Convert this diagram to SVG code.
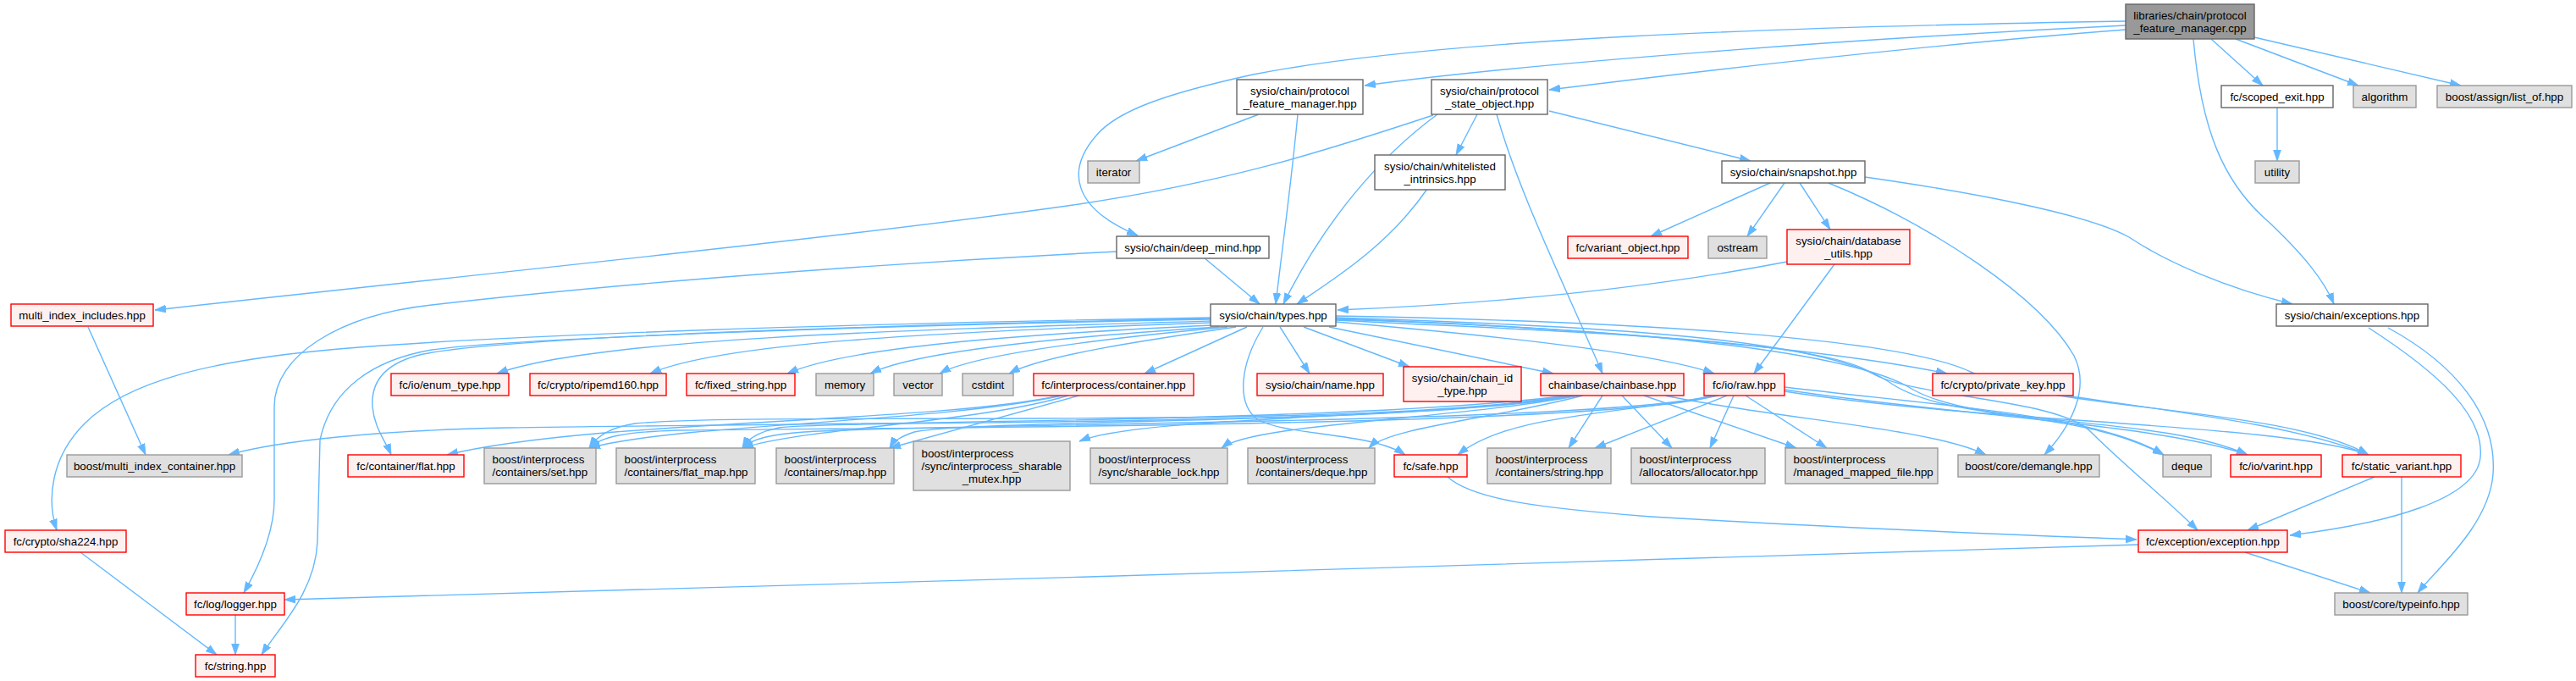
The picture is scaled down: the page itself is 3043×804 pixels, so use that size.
<svg xmlns="http://www.w3.org/2000/svg" width="3043" height="804" viewBox="0 0 3043 804">
<style>
text{font-family:"Liberation Sans",Arial,Helvetica,sans-serif;font-size:13.33px;fill:#000}
.c{text-anchor:middle}
.w rect{fill:#fff;stroke:#666;stroke-width:1.4}
.r0 rect{fill:#999;stroke:#666;stroke-width:1.4}
.g rect{fill:#e0e0e0;stroke:#999;stroke-width:1.4}
.x rect{fill:#fff0f0;stroke:#f00;stroke-width:1.4}
#edges path{fill:none;stroke:#63b8ff;stroke-width:1.4;marker-end:url(#ah)}
</style>
<defs>
<marker id="ah" markerUnits="userSpaceOnUse" markerWidth="14" markerHeight="10" refX="13" refY="5" orient="auto">
<path d="M0,0.6 L13,5 L0,9.4 Z" fill="#63b8ff" stroke="#63b8ff" stroke-width="0.8"/>
</marker>
</defs>
<rect width="3043" height="804" fill="#fff"/>
<g id="edges">
<path d="M2511,30 C2200,45 1800,75 1612,101"/>
<path d="M2511,35 C2250,55 2000,85 1830,106"/>
<path d="M2511,25 C2100,32 1700,45 1480,88 C1380,110 1320,130 1295,160 C1260,200 1265,245 1344,278"/>
<path d="M2591,46 C2600,150 2625,215 2680,262 C2720,300 2745,330 2757,359"/>
<path d="M2612,46 L2673,101"/>
<path d="M2641,46 L2786,101"/>
<path d="M2663,44 L2907,101"/>
<path d="M2690,127 L2690,190"/>
<path d="M1487,135 L1342,190"/>
<path d="M1533,135 C1525,220 1515,290 1507,359"/>
<path d="M1698,135 C1630,185 1565,260 1516,359"/>
<path d="M1693,136 C1560,180 1450,215 1268,242 C1000,280 600,320 183,366"/>
<path d="M1745,135 L1720,183"/>
<path d="M1830,131 L2068,190"/>
<path d="M1768,135 C1795,230 1850,340 1893,441"/>
<path d="M1686,223 C1640,290 1575,330 1532,359"/>
<path d="M2091,216 L1950,279"/>
<path d="M2108,216 L2064,279"/>
<path d="M2126,216 L2162,271"/>
<path d="M2160,216 C2280,265 2410,350 2450,420 C2470,460 2445,505 2415,537"/>
<path d="M2203,209 C2350,230 2470,255 2515,280 C2560,310 2630,340 2708,359"/>
<path d="M2111,309 C1950,340 1780,358 1580,366"/>
<path d="M2167,312 L2072,441"/>
<path d="M1422,304 L1488,359"/>
<path d="M1319,297 C1000,313 700,338 510,360 C400,372 324,420 324,480 L324,590 C324,630 305,670 288,700"/>
<path d="M278,725 L278,773"/>
<path d="M95,652 L256,773"/>
<path d="M104,386 L172,537"/>
<path d="M1430,379 C1050,390 700,400 587,441"/>
<path d="M1430,381 C1100,392 850,405 768,441"/>
<path d="M1432,384 C1200,395 1000,410 930,441"/>
<path d="M1440,386 C1250,398 1080,415 1028,441"/>
<path d="M1450,386 C1300,400 1150,418 1110,441"/>
<path d="M1460,386 C1350,402 1230,420 1192,441"/>
<path d="M1473,386 L1352,441"/>
<path d="M1512,386 L1547,441"/>
<path d="M1540,386 L1665,433"/>
<path d="M1570,386 L1835,441"/>
<path d="M1578,380 C1750,395 1950,415 2025,441"/>
<path d="M1578,377 C1850,385 2150,410 2300,441"/>
<path d="M1430,375 C1000,382 600,395 400,412 C250,425 150,450 100,500 C60,540 55,590 67,626"/>
<path d="M1430,377 C1000,385 600,400 510,413 C440,425 390,460 378,520 L375,640 C372,700 330,740 309,773"/>
<path d="M1430,376 C1000,385 600,398 500,418 C455,428 438,450 440,480 C442,505 455,520 462,537"/>
<path d="M1492,386 C1465,430 1460,475 1485,495 C1520,515 1620,510 1660,537"/>
<path d="M1578,375 C1900,385 2150,400 2230,450 C2300,500 2450,480 2556,537"/>
<path d="M1578,376 C1900,388 2180,410 2260,460 C2340,505 2550,490 2655,537"/>
<path d="M1578,373 C1950,380 2250,400 2330,440 C2420,485 2700,480 2798,537"/>
<path d="M1578,378 C1850,392 2150,400 2210,440 C2260,470 2430,470 2470,510 C2510,550 2560,590 2596,626"/>
<path d="M1252,467 C1100,500 700,495 528,537"/>
<path d="M1255,467 C1100,500 800,500 696,529"/>
<path d="M1262,467 C1150,500 950,505 877,529"/>
<path d="M1275,467 L1051,529"/>
<path d="M1850,467 C1600,500 900,500 600,505 C450,508 330,520 270,537"/>
<path d="M1852,467 C1600,510 900,485 750,500 C720,505 705,515 696,529"/>
<path d="M1855,467 C1650,505 1000,495 920,505 C895,510 883,518 877,529"/>
<path d="M1858,467 C1700,500 1150,495 1080,510 C1065,515 1056,520 1051,529"/>
<path d="M1862,467 C1700,495 1350,490 1275,521"/>
<path d="M1865,467 C1720,495 1480,500 1443,529"/>
<path d="M1870,467 C1760,495 1640,505 1617,529"/>
<path d="M1893,467 L1853,529"/>
<path d="M1916,467 L1975,529"/>
<path d="M1942,467 L2122,529"/>
<path d="M1967,467 C2100,495 2280,505 2346,537"/>
<path d="M2030,467 C1900,490 1780,490 1722,537"/>
<path d="M2040,467 L1884,529"/>
<path d="M2048,467 L2020,529"/>
<path d="M2062,467 L2158,529"/>
<path d="M2027,467 C1900,505 1000,505 800,508 C740,510 710,515 696,529"/>
<path d="M2022,467 C1900,500 1100,500 950,510 C910,513 888,518 877,529"/>
<path d="M2108,457 C2300,480 2480,490 2556,537"/>
<path d="M2108,460 C2300,490 2550,500 2655,537"/>
<path d="M2108,462 C2350,500 2700,500 2798,537"/>
<path d="M2440,467 C2600,490 2720,505 2798,537"/>
<path d="M2805,563 L2655,626"/>
<path d="M2837,563 L2837,700"/>
<path d="M2652,652 L2800,700"/>
<path d="M2526,643 C2000,660 1000,690 336,708"/>
<path d="M1710,563 C1740,590 1820,600 1950,610 C2200,625 2400,632 2524,637"/>
<path d="M2798,387 C2880,440 2935,490 2930,540 C2925,590 2820,618 2705,632"/>
<path d="M2821,387 C2900,430 2950,490 2945,560 C2940,620 2880,670 2856,700"/>
</g>
<g id="n_cpp" class="r0"><rect x="2511" y="5" width="152" height="41"/><text class="c" x="2587" y="22.7">libraries/chain/protocol</text><text class="c" x="2587" y="37.7">_feature_manager.cpp</text></g>
<g id="n_pfm" class="w"><rect x="1461" y="94" width="149" height="41"/><text class="c" x="1535.5" y="111.7">sysio/chain/protocol</text><text class="c" x="1535.5" y="126.7">_feature_manager.hpp</text></g>
<g id="n_pso" class="w"><rect x="1691" y="94" width="137" height="41"/><text class="c" x="1759.5" y="111.7">sysio/chain/protocol</text><text class="c" x="1759.5" y="126.7">_state_object.hpp</text></g>
<g id="n_scoped" class="w"><rect x="2624" y="101" width="132" height="26"/><text class="c" x="2690" y="118.5">fc/scoped_exit.hpp</text></g>
<g id="n_algorithm" class="g"><rect x="2780" y="101" width="74" height="26"/><text class="c" x="2817" y="118.5">algorithm</text></g>
<g id="n_listof" class="g"><rect x="2879" y="101" width="159" height="26"/><text class="c" x="2958.5" y="118.5">boost/assign/list_of.hpp</text></g>
<g id="n_iterator" class="g"><rect x="1285" y="190" width="61" height="26"/><text class="c" x="1315.5" y="207.5">iterator</text></g>
<g id="n_whitelisted" class="w"><rect x="1624" y="183" width="154" height="41"/><text class="c" x="1701" y="200.7">sysio/chain/whitelisted</text><text class="c" x="1701" y="215.7">_intrinsics.hpp</text></g>
<g id="n_snapshot" class="w"><rect x="2034" y="190" width="169" height="26"/><text class="c" x="2118.5" y="207.5">sysio/chain/snapshot.hpp</text></g>
<g id="n_utility" class="g"><rect x="2664" y="190" width="52" height="26"/><text class="c" x="2690" y="207.5">utility</text></g>
<g id="n_deepmind" class="w"><rect x="1319" y="279" width="180" height="26"/><text class="c" x="1409" y="296.5">sysio/chain/deep_mind.hpp</text></g>
<g id="n_variantobj" class="x"><rect x="1852" y="279" width="142" height="26"/><text class="c" x="1923" y="296.5">fc/variant_object.hpp</text></g>
<g id="n_ostream" class="g"><rect x="2018" y="279" width="69" height="26"/><text class="c" x="2052.5" y="296.5">ostream</text></g>
<g id="n_dbutils" class="x"><rect x="2111" y="271" width="145" height="41"/><text class="c" x="2183.5" y="288.7">sysio/chain/database</text><text class="c" x="2183.5" y="303.7">_utils.hpp</text></g>
<g id="n_mii" class="x"><rect x="13" y="359" width="168" height="26"/><text class="c" x="97" y="376.5">multi_index_includes.hpp</text></g>
<g id="n_types" class="w"><rect x="1430" y="359" width="148" height="26"/><text class="c" x="1504" y="376.5">sysio/chain/types.hpp</text></g>
<g id="n_exceptions" class="w"><rect x="2689" y="359" width="179" height="26"/><text class="c" x="2778.5" y="376.5">sysio/chain/exceptions.hpp</text></g>
<g id="n_enum" class="x"><rect x="462" y="441" width="139" height="26"/><text class="c" x="531.5" y="458.5">fc/io/enum_type.hpp</text></g>
<g id="n_ripemd" class="x"><rect x="626" y="441" width="161" height="26"/><text class="c" x="706.5" y="458.5">fc/crypto/ripemd160.hpp</text></g>
<g id="n_fixed" class="x"><rect x="811" y="441" width="128" height="26"/><text class="c" x="875" y="458.5">fc/fixed_string.hpp</text></g>
<g id="n_memory" class="g"><rect x="964" y="441" width="68" height="26"/><text class="c" x="998" y="458.5">memory</text></g>
<g id="n_vector" class="g"><rect x="1056" y="441" width="57" height="26"/><text class="c" x="1084.5" y="458.5">vector</text></g>
<g id="n_cstdint" class="g"><rect x="1137" y="441" width="60" height="26"/><text class="c" x="1167" y="458.5">cstdint</text></g>
<g id="n_container" class="x"><rect x="1221" y="441" width="189" height="26"/><text class="c" x="1315.5" y="458.5">fc/interprocess/container.hpp</text></g>
<g id="n_name" class="x"><rect x="1485" y="441" width="149" height="26"/><text class="c" x="1559.5" y="458.5">sysio/chain/name.hpp</text></g>
<g id="n_chainid" class="x"><rect x="1658" y="433" width="139" height="41"/><text class="c" x="1727.5" y="450.7">sysio/chain/chain_id</text><text class="c" x="1727.5" y="465.7">_type.hpp</text></g>
<g id="n_chainbase" class="x"><rect x="1820" y="441" width="169" height="26"/><text class="c" x="1904.5" y="458.5">chainbase/chainbase.hpp</text></g>
<g id="n_raw" class="x"><rect x="2013" y="441" width="95" height="26"/><text class="c" x="2060.5" y="458.5">fc/io/raw.hpp</text></g>
<g id="n_privkey" class="x"><rect x="2283" y="441" width="166" height="26"/><text class="c" x="2366" y="458.5">fc/crypto/private_key.hpp</text></g>
<g id="n_mic" class="g"><rect x="79" y="537" width="207" height="26"/><text class="c" x="182.5" y="554.5">boost/multi_index_container.hpp</text></g>
<g id="n_flat" class="x"><rect x="411" y="537" width="137" height="26"/><text class="c" x="479.5" y="554.5">fc/container/flat.hpp</text></g>
<g id="n_set" class="g"><rect x="572" y="529" width="132" height="42"/><text x="581.5" y="546.7">boost/interprocess</text><text x="581.5" y="561.7">/containers/set.hpp</text></g>
<g id="n_flatmap" class="g"><rect x="728" y="529" width="164" height="42"/><text x="737.5" y="546.7">boost/interprocess</text><text x="737.5" y="561.7">/containers/flat_map.hpp</text></g>
<g id="n_map" class="g"><rect x="917" y="529" width="139" height="42"/><text x="926.5" y="546.7">boost/interprocess</text><text x="926.5" y="561.7">/containers/map.hpp</text></g>
<g id="n_mutex" class="g"><rect x="1079" y="521" width="185" height="58"/><text x="1088.5" y="539.7">boost/interprocess</text><text x="1088.5" y="554.7">/sync/interprocess_sharable</text><text class="c" x="1171.5" y="569.7">_mutex.hpp</text></g>
<g id="n_lock" class="g"><rect x="1288" y="529" width="162" height="42"/><text x="1297.5" y="546.7">boost/interprocess</text><text x="1297.5" y="561.7">/sync/sharable_lock.hpp</text></g>
<g id="n_dequehpp" class="g"><rect x="1474" y="529" width="150" height="42"/><text x="1483.5" y="546.7">boost/interprocess</text><text x="1483.5" y="561.7">/containers/deque.hpp</text></g>
<g id="n_safe" class="x"><rect x="1647" y="537" width="86" height="26"/><text class="c" x="1690" y="554.5">fc/safe.hpp</text></g>
<g id="n_bstring" class="g"><rect x="1757" y="529" width="146" height="42"/><text x="1766.5" y="546.7">boost/interprocess</text><text x="1766.5" y="561.7">/containers/string.hpp</text></g>
<g id="n_allocator" class="g"><rect x="1927" y="529" width="158" height="42"/><text x="1936.5" y="546.7">boost/interprocess</text><text x="1936.5" y="561.7">/allocators/allocator.hpp</text></g>
<g id="n_managed" class="g"><rect x="2109" y="529" width="180" height="42"/><text x="2118.5" y="546.7">boost/interprocess</text><text x="2118.5" y="561.7">/managed_mapped_file.hpp</text></g>
<g id="n_demangle" class="g"><rect x="2313" y="537" width="167" height="26"/><text class="c" x="2396.5" y="554.5">boost/core/demangle.hpp</text></g>
<g id="n_deque" class="g"><rect x="2555" y="537" width="57" height="26"/><text class="c" x="2583.5" y="554.5">deque</text></g>
<g id="n_varint" class="x"><rect x="2635" y="537" width="107" height="26"/><text class="c" x="2688.5" y="554.5">fc/io/varint.hpp</text></g>
<g id="n_staticvar" class="x"><rect x="2767" y="537" width="140" height="26"/><text class="c" x="2837" y="554.5">fc/static_variant.hpp</text></g>
<g id="n_sha224" class="x"><rect x="6" y="626" width="143" height="26"/><text class="c" x="77.5" y="643.5">fc/crypto/sha224.hpp</text></g>
<g id="n_exception" class="x"><rect x="2526" y="626" width="176" height="26"/><text class="c" x="2614" y="643.5">fc/exception/exception.hpp</text></g>
<g id="n_logger" class="x"><rect x="220" y="700" width="116" height="26"/><text class="c" x="278" y="717.5">fc/log/logger.hpp</text></g>
<g id="n_typeinfo" class="g"><rect x="2758" y="700" width="157" height="26"/><text class="c" x="2836.5" y="717.5">boost/core/typeinfo.hpp</text></g>
<g id="n_string" class="x"><rect x="231" y="773" width="94" height="26"/><text class="c" x="278" y="790.5">fc/string.hpp</text></g>
</svg>
